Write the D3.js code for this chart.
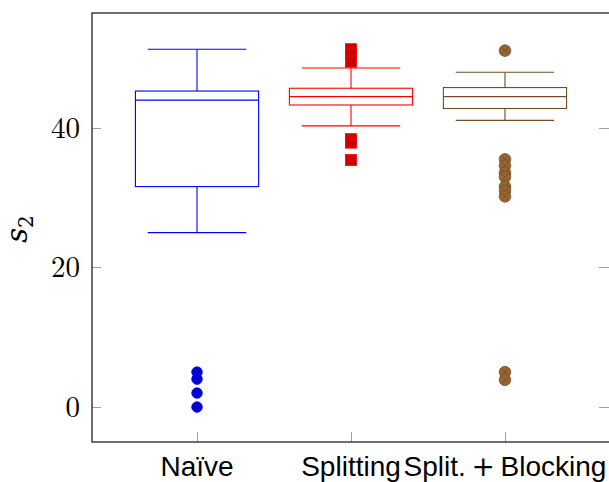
<!DOCTYPE html>
<html>
<head>
<meta charset="utf-8">
<script src="https://cdn.jsdelivr.net/npm/d3@7"></script>
<style>
  html, body { margin: 0; padding: 0; background: #fff; }
  svg { display: block; }
</style>
</head>
<body>
<svg id="chart" width="609" height="482"></svg>
<script>
// Categories and box statistics
const categories = ["Naïve", "Splitting", "Split.+Blocking"];
const lowerWhisker = [25.0, 40.3, 41.1];
const lowerQuartile = [31.6, 43.3, 42.8];
const medians = [44.0, 44.5, 44.5];
const upperQuartile = [45.3, 45.7, 45.8];
const upperWhisker = [51.3, 48.6, 48.0];

// Outliers per category
const outliersNaive = [5.0, 4.0, 2.0, 0.0];
const outliersSplitting = [51.3, 50.6, 49.5, 38.4, 37.9, 35.4];
const outliersBlocking = [51.1, 35.5, 34.6, 33.6, 33.0, 31.6, 31.0, 30.2, 5.0, 3.9];

const yTicks = [0, 20, 40];

// Series styles (line colour, mark fill, mark shape)
const seriesStyle = [
  { line: "#0000ff", fill: "#0000cc", mark: "circle" },
  { line: "#ff0000", fill: "#cc0000", mark: "square" },
  { line: "#734d26", fill: "#996633", mark: "otimes" }
];

const outliers = [outliersNaive, outliersSplitting, outliersBlocking];

const svg = d3.select("#chart");
const plotLeft = 92, plotRight = 610, plotTop = 13, plotBottom = 442;

const x = d3.scaleLinear().domain([0.318, 3.682]).range([plotLeft, plotRight]);
const y = d3.scaleLinear().domain([-5.02, 56.49]).range([plotBottom, plotTop]);

svg.append("rect").attr("width", 609).attr("height", 482).attr("fill", "#fff");

// Tick marks (inside the frame, on both sides)
const tickG = svg.append("g").attr("stroke", "#a0a0a0").attr("stroke-width", 1);
yTicks.forEach(t => {
  const yy = Math.round(y(t)) + 0.5;
  tickG.append("line").attr("x1", plotLeft).attr("x2", plotLeft + 9).attr("y1", yy).attr("y2", yy);
  tickG.append("line").attr("x1", plotRight - 11).attr("x2", plotRight).attr("y1", yy).attr("y2", yy);
});
categories.forEach((c, i) => {
  const xx = Math.round(x(i + 1)) + 0.5;
  tickG.append("line").attr("x1", xx).attr("x2", xx).attr("y1", plotBottom - 10).attr("y2", plotBottom);
});

// Boxes
const boxW = 0.8, whiskW = 0.64;
categories.forEach((c, i) => {
  const st = seriesStyle[i];
  const g = svg.append("g").attr("stroke", st.line).attr("stroke-width", 1.1).attr("fill", "none");
  const cx = i + 1;
  const xl = x(cx - boxW / 2), xr = x(cx + boxW / 2);
  g.append("rect")
    .attr("x", xl).attr("y", y(upperQuartile[i]))
    .attr("width", xr - xl).attr("height", y(lowerQuartile[i]) - y(upperQuartile[i]));
  g.append("line").attr("x1", xl).attr("x2", xr)
    .attr("y1", y(medians[i])).attr("y2", y(medians[i]));
  g.append("line").attr("x1", x(cx)).attr("x2", x(cx))
    .attr("y1", y(upperQuartile[i])).attr("y2", y(upperWhisker[i]));
  g.append("line").attr("x1", x(cx)).attr("x2", x(cx))
    .attr("y1", y(lowerQuartile[i])).attr("y2", y(lowerWhisker[i]));
  [upperWhisker[i], lowerWhisker[i]].forEach(v => {
    g.append("line").attr("x1", x(cx - whiskW / 2)).attr("x2", x(cx + whiskW / 2))
      .attr("y1", y(v)).attr("y2", y(v));
  });

  // Outlier marks
  const mg = svg.append("g");
  outliers[i].forEach(v => {
    const px = x(cx), py = y(v);
    if (st.mark === "circle") {
      mg.append("circle").attr("cx", px).attr("cy", py).attr("r", 5.3)
        .attr("fill", st.fill).attr("stroke", st.line).attr("stroke-width", 0.8);
    } else if (st.mark === "square") {
      mg.append("rect").attr("x", px - 5.5).attr("y", py - 5.5).attr("width", 11).attr("height", 11)
        .attr("fill", st.fill).attr("stroke", st.line).attr("stroke-width", 0.8);
    } else {
      const r = 5.8, d = r * Math.SQRT1_2;
      mg.append("circle").attr("cx", px).attr("cy", py).attr("r", r)
        .attr("fill", st.fill).attr("stroke", st.line).attr("stroke-width", 0.8);
      mg.append("path")
        .attr("d", `M${px - d},${py - d}L${px + d},${py + d}M${px - d},${py + d}L${px + d},${py - d}`)
        .attr("stroke", st.line).attr("stroke-width", 0.8);
    }
  });
});

// Frame
svg.append("rect").attr("x", plotLeft).attr("y", plotTop)
  .attr("width", plotRight - plotLeft).attr("height", plotBottom - plotTop)
  .attr("fill", "none").attr("stroke", "#222").attr("stroke-width", 1.3);

// Y tick labels
svg.append("g").selectAll("text").data(yTicks).join("text")
  .attr("x", 80).attr("y", d => y(d))
  .attr("dy", "0.34em")
  .attr("text-anchor", "end")
  .attr("font-family", "'Latin Modern Roman', 'DejaVu Serif', serif")
  .attr("font-size", 29)
  .attr("fill", "#000")
  .text(d => d);

// Category labels
const catG = svg.append("g")
  .attr("font-family", "'Liberation Sans', Arial, sans-serif")
  .attr("font-size", 28).attr("fill", "#000").attr("text-anchor", "middle");
categories.forEach((c, i) => {
  const t = catG.append("text").attr("x", x(i + 1)).attr("y", 476);
  if (c.includes("+")) {
    const [a, b] = c.split("+");
    t.append("tspan").text(a);
    t.append("tspan").attr("font-family", "'DejaVu Serif', serif").attr("font-weight", 200)
      .text("\u2009+\u2009");
    t.append("tspan").text(b);
  } else {
    t.text(c);
  }
});

// Y axis label
const yl = svg.append("text")
  .attr("transform", "translate(27,229) rotate(-90)")
  .attr("text-anchor", "middle")
  .attr("font-family", "'DejaVu Serif', serif")
  .attr("font-size", 29).attr("fill", "#000");
yl.append("tspan").attr("font-style", "italic").text("s");
yl.append("tspan").attr("font-size", 20).attr("dy", 6).text("2");
</script>
</body>
</html>
